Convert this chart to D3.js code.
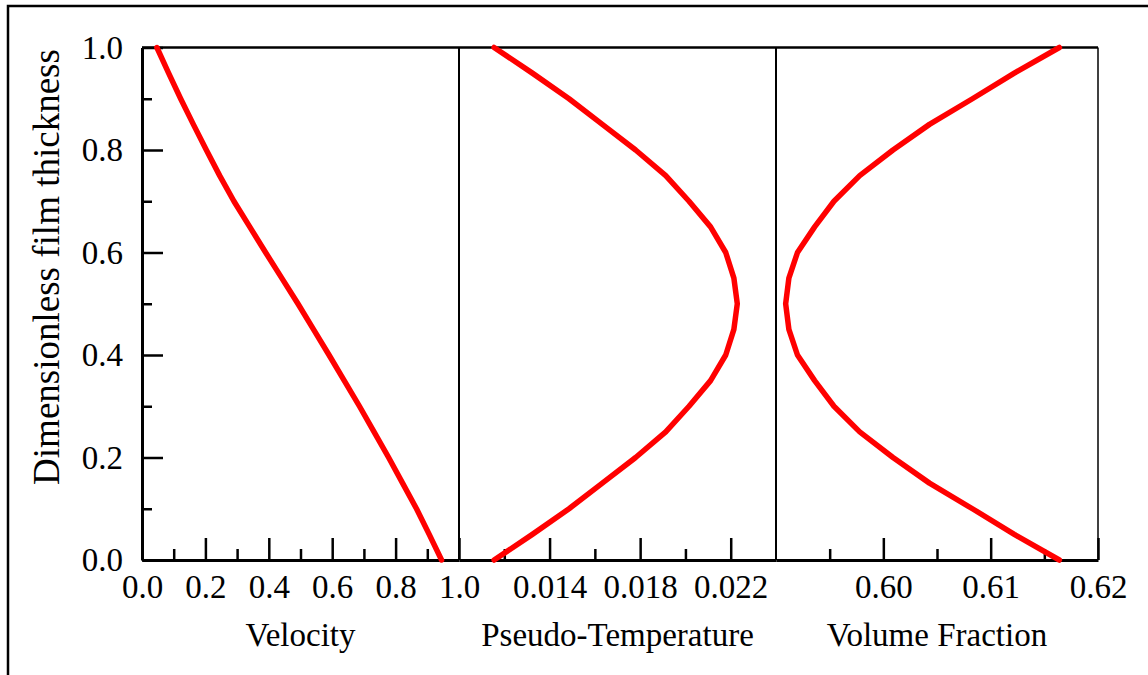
<!DOCTYPE html>
<html>
<head>
<meta charset="utf-8">
<script src="https://cdn.jsdelivr.net/npm/d3@7"></script>
<style>
  body { margin: 0; background: #fff; }
  svg text { font-family: "Liberation Serif", "Times New Roman", serif; fill: #000; }
</style>
</head>
<body>
<svg id="chart" width="1148" height="675"></svg>
<script>
// film thickness positions (shared y for all three profiles)
var thickness = [0.0, 0.05, 0.1, 0.15, 0.2, 0.25, 0.3, 0.35, 0.4, 0.45, 0.5,
                 0.55, 0.6, 0.65, 0.7, 0.75, 0.8, 0.85, 0.9, 0.95, 1.0];

// profiles
var velocity = [0.945, 0.906, 0.866, 0.822, 0.778, 0.732, 0.686, 0.638, 0.590, 0.541, 0.492,
                0.441, 0.390, 0.340, 0.290, 0.245, 0.203, 0.162, 0.122, 0.084, 0.047];
var pseudoTemp = [0.01155, 0.01324, 0.01486, 0.01633, 0.01780, 0.01913, 0.02016, 0.02111, 0.02178, 0.02214, 0.02229,
                  0.02214, 0.02178, 0.02111, 0.02016, 0.01913, 0.01780, 0.01633, 0.01486, 0.01324, 0.01155];
var volFraction = [0.6164, 0.6122, 0.6083, 0.6043, 0.6009, 0.5978, 0.5954, 0.5936, 0.5920, 0.5912, 0.5909,
                   0.5912, 0.5920, 0.5936, 0.5954, 0.5978, 0.6009, 0.6043, 0.6083, 0.6122, 0.6164];

// tick values
var yMajor = [0, 0.2, 0.4, 0.6, 0.8, 1.0];
var yMinor = [0.1, 0.3, 0.5, 0.7, 0.9];
var velMajor = [0, 0.2, 0.4, 0.6, 0.8, 1.0];
var velMinor = [0.1, 0.3, 0.5, 0.7, 0.9];
var tempMajor = [0.014, 0.018, 0.022];
var tempMinor = [0.012, 0.016, 0.020];
var vfMajor = [0.60, 0.61, 0.62];
var vfMinor = [0.595, 0.605, 0.615];

var svg = d3.select("#chart");

var plotTop = 47.5, plotBottom = 560, plotLeft = 142, plotRight = 1098;

// outer frame (runs off the right and bottom of the picture)
svg.append("rect")
  .attr("x", 8).attr("y", 6)
  .attr("width", 1160).attr("height", 700)
  .attr("fill", "none").attr("stroke", "#000").attr("stroke-width", 2.5);

var y = d3.scaleLinear().domain([0, 1]).range([plotBottom, plotTop]);

// panel definitions
var panels = [
  { title: "Velocity", x0: plotLeft, x1: 459, domain: [0, 1.0], values: velocity,
    major: velMajor, minor: velMinor, fmt: d3.format(".1f") },
  { title: "Pseudo-Temperature", x0: 459, x1: 776, domain: [0.010, 0.024], values: pseudoTemp,
    major: tempMajor, minor: tempMinor, fmt: d3.format(".3f") },
  { title: "Volume Fraction", x0: 776, x1: plotRight, domain: [0.59, 0.62], values: volFraction,
    major: vfMajor, minor: vfMinor, fmt: d3.format(".2f") }
];

// top line and right border
svg.append("line")
  .attr("x1", plotLeft).attr("x2", plotRight).attr("y1", plotTop).attr("y2", plotTop)
  .attr("stroke", "#000").attr("stroke-width", 2.5);
svg.append("line")
  .attr("x1", plotRight).attr("x2", plotRight).attr("y1", plotTop).attr("y2", plotBottom)
  .attr("stroke", "#000").attr("stroke-width", 1.5);

panels.forEach(function(p, i) {
  p.x = d3.scaleLinear().domain(p.domain).range([p.x0, p.x1]);

  // divider between panels
  if (i > 0) {
    svg.append("line")
      .attr("x1", p.x0).attr("x2", p.x0).attr("y1", plotTop).attr("y2", plotBottom)
      .attr("stroke", "#000").attr("stroke-width", 2);
  }

  // minor ticks
  var minorAxis = svg.append("g")
    .attr("transform", "translate(0," + plotBottom + ")")
    .call(d3.axisBottom(p.x).tickValues(p.minor).tickSizeInner(-11).tickSizeOuter(0).tickFormat(""));
  minorAxis.select(".domain").remove();

  // major ticks + labels
  var majorAxis = svg.append("g")
    .attr("transform", "translate(0," + plotBottom + ")")
    .call(d3.axisBottom(p.x).tickValues(p.major).tickSizeInner(-22).tickSizeOuter(0)
      .tickPadding(15).tickFormat(p.fmt));
  majorAxis.select(".domain").attr("stroke-width", 3);
  majorAxis.selectAll(".tick text")
    .attr("font-size", 33)
    .attr("font-family", null);

  // axis title
  svg.append("text")
    .attr("x", (p.x0 + p.x1) / 2)
    .attr("y", 646)
    .attr("text-anchor", "middle")
    .attr("font-size", 33)
    .text(p.title);
});

// left axis
var leftMinor = svg.append("g")
  .attr("transform", "translate(" + plotLeft + ",0)")
  .call(d3.axisLeft(y).tickValues(yMinor).tickSizeInner(-10).tickSizeOuter(0).tickFormat(""));
leftMinor.select(".domain").remove();

var leftAxis = svg.append("g")
  .attr("transform", "translate(" + plotLeft + ",0)")
  .call(d3.axisLeft(y).tickValues(yMajor).tickSizeInner(-21).tickSizeOuter(0)
    .tickPadding(19).tickFormat(d3.format(".1f")));
leftAxis.select(".domain").attr("stroke-width", 3);
leftAxis.selectAll(".tick text").attr("font-size", 33).attr("font-family", null);

svg.selectAll(".tick line").attr("stroke-width", 2.5);

svg.append("text")
  .attr("transform", "translate(59,267) rotate(-90)")
  .attr("text-anchor", "middle")
  .attr("font-size", 37)
  .text("Dimensionless film thickness");

// profile lines drawn over the axes
panels.forEach(function(p) {
  var line = d3.line()
    .x(function(d, i) { return p.x(p.values[i]); })
    .y(function(d) { return y(d); });
  svg.append("path")
    .datum(thickness)
    .attr("d", line)
    .attr("fill", "none")
    .attr("stroke", "#ff0000")
    .attr("stroke-width", 5.5)
    .attr("stroke-linecap", "round")
    .attr("stroke-linejoin", "round");
});
</script>
</body>
</html>
